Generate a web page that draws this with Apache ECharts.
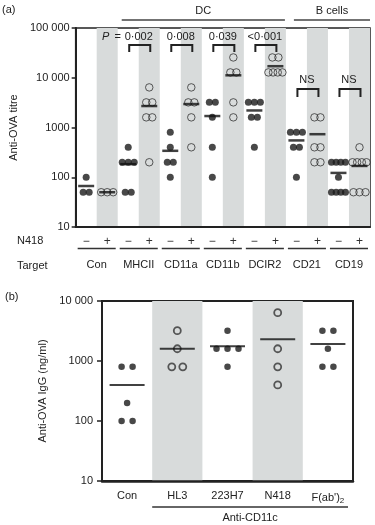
<!DOCTYPE html>
<html>
<head>
<meta charset="utf-8">
<script src="https://cdn.jsdelivr.net/npm/echarts@6/dist/echarts.min.js"></script>
<style>
  html, body { margin: 0; padding: 0; background: #fff; }
  #chart { width: 375px; height: 525px; }
</style>
</head>
<body>
<div id="chart"></div>
<script>
// ---- panel (a): anti-OVA titre, N418 - / + per target ----
var targets = ['Con', 'MHCII', 'CD11a', 'CD11b', 'DCIR2', 'CD21', 'CD19'];
var n418 = ['−', '+'];
var conNeg = [100, 50, 50];
var conPos = [50, 50, 50];
var mhciiNeg = [400, 200, 200, 200, 50, 50];
var mhciiPos = [6400, 3200, 3200, 1600, 1600, 200];
var cd11aNeg = [800, 400, 200, 200, 100];
var cd11aPos = [6400, 3200, 3200, 1600, 400];
var cd11bNeg = [3200, 3200, 1600, 400, 100];
var cd11bPos = [25600, 12800, 12800, 3200, 1600];
var dcir2Neg = [3200, 3200, 3200, 1600, 1600, 400];
var dcir2Pos = [25600, 25600, 12800, 12800, 12800, 12800];
var cd21Neg = [800, 800, 800, 400, 400, 100];
var cd21Pos = [1600, 1600, 400, 400, 200, 200];
var cd19Neg = [200, 200, 200, 200, 100, 50, 50, 50, 50];
var cd19Pos = [400, 200, 200, 200, 200, 50, 50, 50];
var pDC = ['0·002', '0·008', '0·039', '<0·001'];
var pB = ['NS', 'NS'];

// ---- panel (b): anti-OVA IgG per anti-CD11c antibody ----
var antibodies = ['Con', 'HL3', '223H7', 'N418', "F(ab')2"];
var igCon = [800, 800, 200, 100, 100];
var igHL3 = [3200, 1600, 800, 800];
var ig223H7 = [3200, 1600, 1600, 1600, 800];
var igN418 = [6400, 1600, 800, 400];
var igFab = [3200, 3200, 1600, 800, 800];
var openB = [false, true, false, true, false];

var FONT = 'Liberation Sans, Arial, sans-serif';
var INK = '#222';
var BAND = '#d8dbdb';

var colsA = [];
targets.forEach(function (t) { n418.forEach(function (s) { colsA.push(t + '|' + s); }); });
var valsA = [conNeg, conPos, mhciiNeg, mhciiPos, cd11aNeg, cd11aPos, cd11bNeg, cd11bPos,
             dcir2Neg, dcir2Pos, cd21Neg, cd21Pos, cd19Neg, cd19Pos];
var valsB = [igCon, igHL3, ig223H7, igN418, igFab];

// spread equal values side by side inside a column
function points(cat, vals, step, maxW) {
  var counts = {}, seen = {};
  vals.forEach(function (v) { counts[v] = (counts[v] || 0) + 1; });
  return vals.map(function (v) {
    var n = counts[v];
    var k = seen[v] = (seen[v] || 0) + 1;
    var s = n > 1 ? Math.min(step, maxW / (n - 1)) : 0;
    return { value: [cat, v], symbolOffset: [(k - 1 - (n - 1) / 2) * s, 0] };
  });
}
function mean(a) { return a.reduce(function (s, v) { return s + v; }, 0) / a.length; }
function fmt(v) { return v >= 10000 ? String(v).replace(/\B(?=(\d{3})+(?!\d))/g, ' ') : String(v); }

var filledA = [], openA = [], meanA = [];
valsA.forEach(function (vals, i) {
  var pts = points(colsA[i], vals, 6, 14);
  if (i % 2 === 0) filledA = filledA.concat(pts); else openA = openA.concat(pts);
  meanA.push([colsA[i], mean(vals)]);
});
var filledB = [], openBPts = [], meanB = [];
valsB.forEach(function (vals, i) {
  var pts = points(antibodies[i], vals, 11, 30);
  if (openB[i]) openBPts = openBPts.concat(pts); else filledB = filledB.concat(pts);
  meanB.push([antibodies[i], mean(vals)]);
});

function yAxisCfg(grid, min, max, name, gap, tickLen, margin) {
  return {
    gridIndex: grid, type: 'log', logBase: 10, min: min, max: max,
    name: name, nameLocation: 'middle', nameGap: gap,
    nameTextStyle: { fontSize: 11, color: INK, fontFamily: FONT },
    axisLine: { show: true, lineStyle: { color: INK, width: 2 } },
    axisTick: { show: true, length: tickLen, lineStyle: { color: INK, width: 1.5 } },
    axisLabel: { fontSize: 11, color: INK, fontFamily: FONT, margin: margin, formatter: fmt },
    splitLine: { show: false }, minorTick: { show: false }
  };
}

var option = {
  animation: false,
  textStyle: { fontFamily: FONT },
  grid: [
    { left: 69, top: 28, width: 301, height: 199, show: true, borderColor: INK, borderWidth: 1.5 },
    { left: 102, top: 301, width: 251, height: 180, show: true, borderColor: INK, borderWidth: 2 }
  ],
  xAxis: [
    {
      gridIndex: 0, type: 'category', data: colsA, position: 'bottom',
      axisLine: { lineStyle: { color: INK, width: 2 } },
      axisTick: { show: false },
      axisLabel: { interval: 0, margin: 9, fontSize: 12, color: '#333', fontFamily: FONT,
        formatter: function (v) { return v.split('|')[1]; } },
      splitArea: { show: true, interval: 0, areaStyle: { color: ['rgba(255,255,255,0)', BAND] } }
    },
    {
      gridIndex: 0, type: 'category', data: targets, position: 'bottom', offset: 27,
      axisLine: { show: false }, axisTick: { show: false },
      axisLabel: { interval: 0, margin: 5, fontSize: 11, color: INK, fontFamily: FONT }
    },
    {
      gridIndex: 1, type: 'category', data: antibodies, position: 'bottom',
      axisLine: { lineStyle: { color: INK, width: 2.5 } },
      axisTick: { show: false },
      axisLabel: { interval: 0, margin: 9, fontSize: 11, color: INK, fontFamily: FONT,
        formatter: function (v) { return v === "F(ab')2" ? "F(ab')" + '{s|2}' : v; },
        rich: { s: { fontSize: 8, color: INK, padding: [7, 0, 0, 0] } } },
      splitArea: { show: true, interval: 0, areaStyle: { color: ['rgba(255,255,255,0)', BAND] } }
    }
  ],
  yAxis: [
    yAxisCfg(0, 10, 100000, 'Anti-OVA titre', 53, 4, 6),
    yAxisCfg(1, 10, 10000, 'Anti-OVA IgG (ng/ml)', 53, 5, 9)
  ],
  series: [
    { type: 'scatter', xAxisIndex: 0, yAxisIndex: 0, symbol: 'circle', symbolSize: 7,
      itemStyle: { color: '#1a1a1a' }, data: filledA, z: 3 },
    { type: 'scatter', xAxisIndex: 0, yAxisIndex: 0, symbol: 'circle', symbolSize: 7.5,
      itemStyle: { color: 'rgba(0,0,0,0)', borderColor: '#333', borderWidth: 1 }, data: openA, z: 3 },
    { type: 'scatter', xAxisIndex: 0, yAxisIndex: 0, symbol: 'rect', symbolSize: [16, 2.5],
      itemStyle: { color: '#111' }, data: meanA, z: 4 },
    { type: 'scatter', xAxisIndex: 2, yAxisIndex: 1, symbol: 'circle', symbolSize: 6.5,
      itemStyle: { color: '#1a1a1a' }, data: filledB, z: 3 },
    { type: 'scatter', xAxisIndex: 2, yAxisIndex: 1, symbol: 'circle', symbolSize: 7,
      itemStyle: { color: 'rgba(0,0,0,0)', borderColor: '#333', borderWidth: 1.8 }, data: openBPts, z: 3 },
    { type: 'scatter', xAxisIndex: 2, yAxisIndex: 1, symbol: 'rect', symbolSize: [35, 2],
      itemStyle: { color: '#111' }, data: meanB, z: 4 }
  ]
};

var chart = echarts.init(document.getElementById('chart'));
chart.setOption(option);

// annotations placed from the axes' own pixel positions
function xa(i) { return chart.convertToPixel({ xAxisIndex: 0 }, colsA[i]); }
function xb(i) { return chart.convertToPixel({ xAxisIndex: 2 }, antibodies[i]); }
var bwA = xa(1) - xa(0), bwB = xb(1) - xb(0);

function txt(x, y, s, size, align, extra) {
  var st = { text: s, fill: INK, font: (extra || '') + size + 'px ' + FONT,
    align: align || 'center', verticalAlign: 'middle', textAlign: align || 'center', textVerticalAlign: 'middle' };
  return { type: 'text', x: x, y: y, style: st, z: 10 };
}
function line(x1, y1, x2, y2, w, c) {
  return { type: 'line', shape: { x1: x1, y1: y1, x2: x2, y2: y2 }, style: { stroke: c || INK, lineWidth: w }, z: 10 };
}
function bracket(x1, x2, y, leg) {
  return { type: 'polyline', shape: { points: [[x1, y + leg], [x1, y], [x2, y], [x2, y + leg]] },
    style: { stroke: INK, lineWidth: 2, fill: null }, z: 10 };
}

var g = [];
g.push(txt(2, 10, '(a)', 11, 'left'));
g.push(txt(5, 297, '(b)', 11, 'left'));
// group headers
var dcL = xa(2) - bwA / 2 + 4, dcR = xa(9) + bwA / 2 - 1;
var bL = xa(10) - bwA / 2 + 8, bR = xa(13) + bwA / 2;
g.push(line(dcL, 20, dcR, 20, 1.5, '#444'));
g.push(line(bL, 20, bR, 20, 1.5, '#444'));
g.push(txt((dcL + dcR) / 2, 11, 'DC', 11));
g.push(txt((bL + bR) / 2, 11, 'B cells', 11));
// P-value brackets
pDC.forEach(function (p, k) {
  var i = 2 + 2 * k, c = (xa(i) + xa(i + 1)) / 2;
  g.push(bracket(xa(i) + 1, xa(i + 1) + 1, 45, 7));
  g.push(txt(c, 37, p, 11));
  if (k === 0) {
    g.push(txt(c - 33, 37, 'P', 11, 'center', 'italic '));
    g.push(txt(c - 21, 37, '=', 11));
  }
});
pB.forEach(function (p, k) {
  var i = 10 + 2 * k, c = (xa(i) + xa(i + 1)) / 2;
  g.push(bracket(xa(i) + 1, xa(i + 1) + 1, 89, 8));
  g.push(txt(c, 80, p, 11));
});
// row labels and pair underlines
g.push(txt(17, 241, 'N418', 11, 'left'));
g.push(txt(17, 266, 'Target', 11, 'left'));
targets.forEach(function (t, k) {
  g.push(line(xa(2 * k) - bwA / 2 + 2, 248.5, xa(2 * k + 1) + bwA / 2 - 2, 248.5, 1.5, '#333'));
});
// Anti-CD11c group
var aL = xb(1) - bwB / 2, aR = xb(4) + bwB / 2 - 5;
g.push(line(aL, 507, aR, 507, 1.5, '#333'));
g.push(txt((aL + aR) / 2, 518, 'Anti-CD11c', 11));

chart.setOption({ graphic: g });
</script>
</body>
</html>
